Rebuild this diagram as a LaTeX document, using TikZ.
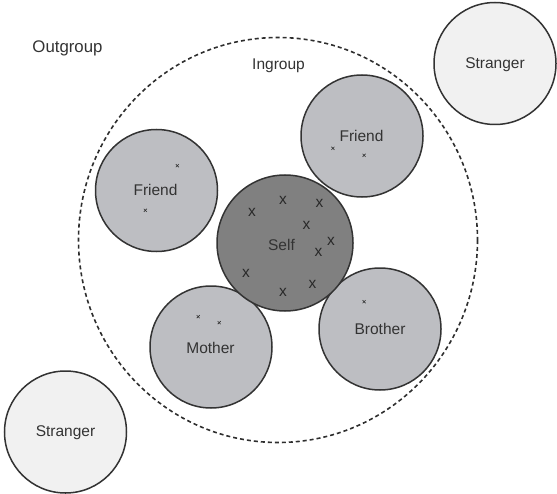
\documentclass[tikz,border=0pt]{standalone}
\usepackage{fontspec}
\setmainfont{Liberation Sans}
\definecolor{inkgray}{HTML}{333333}
\definecolor{selffill}{HTML}{808080}
\definecolor{memberfill}{HTML}{BDBEC2}
\definecolor{strangerfill}{HTML}{F1F1F1}
\begin{document}
\begin{tikzpicture}[x=1bp,y=-1bp,
  lbl/.style={font=\fontsize{15.5bp}{18bp}\selectfont, text=inkgray},
  person/.style={circle, draw=inkgray, line width=1.5bp, inner sep=0pt,
    minimum size=122bp, lbl},
  member/.style={person, fill=memberfill},
  stranger/.style={person, fill=strangerfill},
  selfnode/.style={person, fill=selffill, minimum size=136bp},
  bigx/.style={lbl, inner sep=0pt, text=inkgray!80!black},
  tinyx/.style={draw=inkgray, line width=0.6bp}
]
\useasboundingbox (0,0) rectangle (557,494);

% ingroup boundary
\draw[inkgray!90!black, line width=1.6bp, dash pattern=on 4bp off 3bp]
  (278,240) ellipse [x radius=199.5, y radius=202.5];

% group labels
\node[lbl, font=\fontsize{16.8bp}{19bp}\selectfont] (outgroup) at (67.5,48) {Outgroup};
\node[lbl] (ingroup) at (278.5,66) {Ingroup};

% people
\node[member] (friendL) at (156.5,190.5) {};
\node[member] (friendR) at (362,136) {};
\node[member] (mother) at (211,347) {};
\node[member] (brother) at (380,329) {};
\node[stranger] (strangerTR) at (495,63.5) {};
\node[stranger] (strangerBL) at (65.5,432) {};
\node[selfnode] (self) at (285,243) {};

\node[lbl] (tFriendL) at (155.5,189.5) {Friend};
\node[lbl] (tFriendR) at (361.5,135.5) {Friend};
\node[lbl] (tMother) at (210.5,347.5) {Mother};
\node[lbl] (tBrother) at (380,329) {Brother};
\node[lbl] (tStrangerTR) at (495,64.5) {Stranger};
\node[lbl] (tStrangerBL) at (65.5,433) {Stranger};
\node[lbl] (tSelf) at (281.5,244.5) {Self};

% traits held by the self
\foreach \px/\py [count=\i] in {252/212, 283/200.5, 319.5/203, 306.5/225.5,
    331/241.5, 318.5/252, 246/273, 312.5/284.5, 283/292} {
  \node[bigx] (sx\i) at (\px,\py) {x};
}

% traits held by others
\foreach \px/\py [count=\i] in {177.3/165.7, 145.3/210.3, 332.9/148.3,
    364.1/155.3, 198.2/316.7, 219.2/322.7, 364.1/301.7} {
  \coordinate (ox\i) at (\px,\py);
  \draw[tinyx] ([shift={(-1.5,-1.5)}]ox\i) -- ([shift={(1.5,1.5)}]ox\i)
               ([shift={(-1.5,1.5)}]ox\i) -- ([shift={(1.5,-1.5)}]ox\i);
}
\end{tikzpicture}
\end{document}
